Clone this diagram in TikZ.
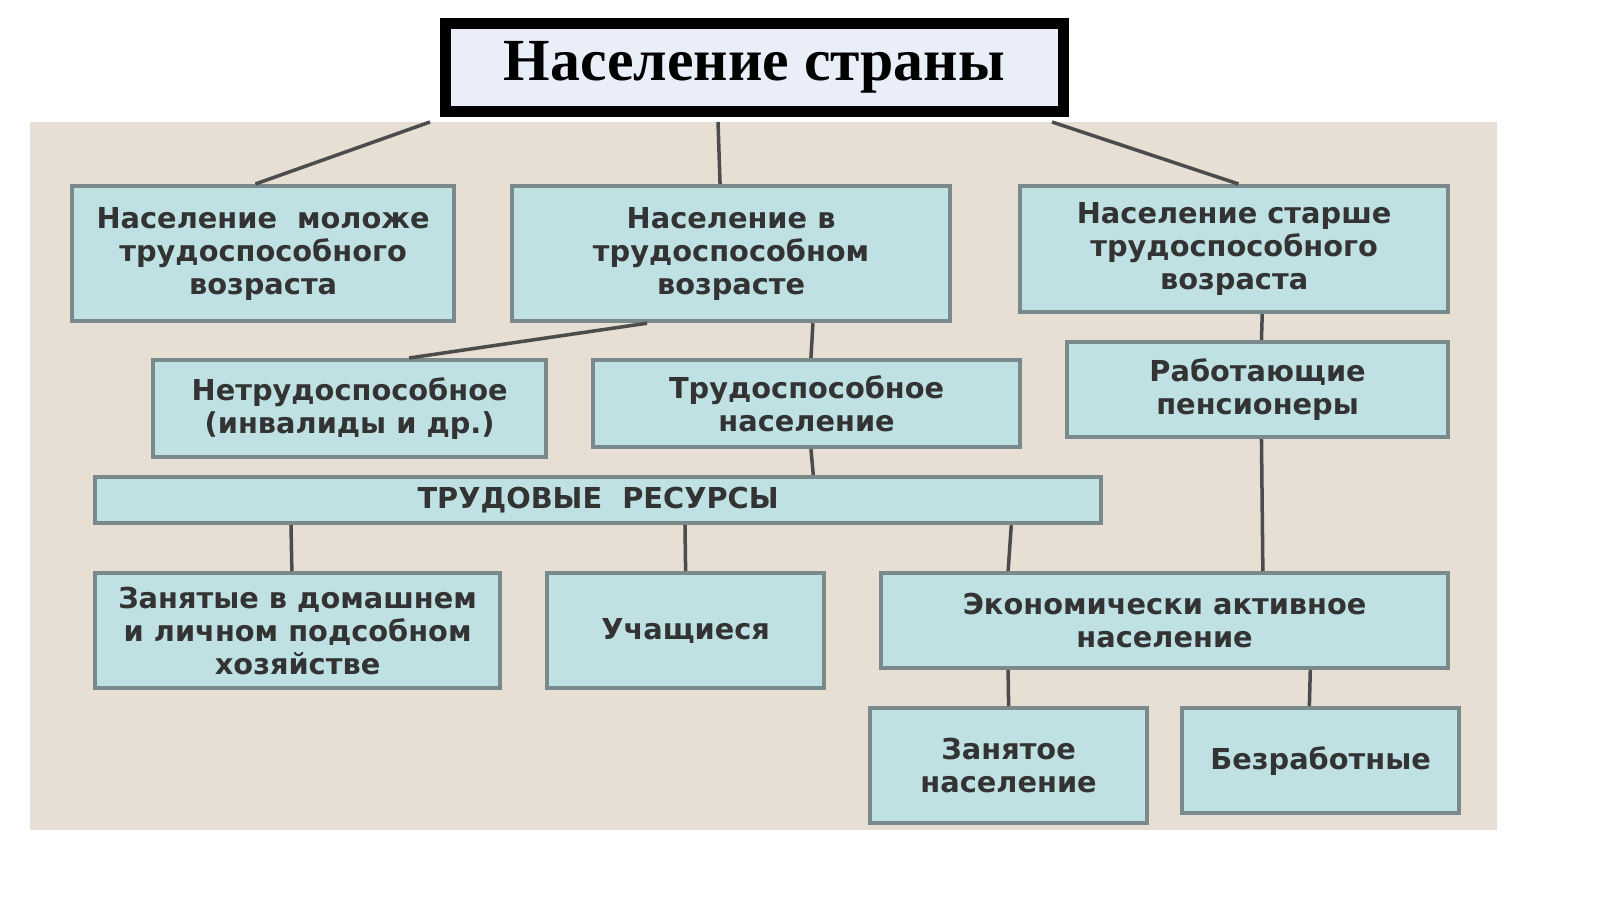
\documentclass[tikz,border=0pt]{standalone}
\usepackage{fontspec}
\setmainfont{Liberation Serif}
\newfontfamily\boxfont{DejaVu Sans}
\usetikzlibrary{calc}
\definecolor{bgsand}{HTML}{E7DED4}
\definecolor{boxblue}{HTML}{BFE1E4}
\definecolor{boxline}{HTML}{7A8A8C}
\definecolor{titlefill}{HTML}{E9EEF8}
\definecolor{txtgray}{HTML}{333333}
\tikzset{
 box/.style={draw=boxline, line width=1.2pt, fill=boxblue, anchor=north west,
  inner sep=0pt, align=center, text=txtgray,
  font=\boxfont\bfseries\fontsize{8.2}{9.4}\selectfont},
 link/.style={draw=black!70, line width=1pt}
}
\begin{document}
\begin{tikzpicture}
 \useasboundingbox (0,0) rectangle (16,-8.99);
 \fill[white] (0,0) rectangle (16,-8.99);
 \fill[bgsand] (0.30,-1.22) rectangle (14.97,-8.30); %фон
 % заголовок
 \node[draw=black, line width=3pt, fill=titlefill, minimum width=6.18cm, minimum height=0.88cm,
  anchor=north west, font=\bfseries\fontsize{17}{20}\selectfont] (T) at (4.40,-0.18) {Население страны};
 % верхний ряд
 \node[box, minimum width=3.82cm, minimum height=1.35cm] (A) at (0.70,-1.84) {Население~~моложе\\трудоспособного\\возраста};
 \node[box, minimum width=4.38cm, minimum height=1.35cm] (B) at (5.10,-1.84) {Население в\\трудоспособном\\возрасте};
 \node[box, minimum width=4.28cm, minimum height=1.26cm] (C) at (10.18,-1.84) {Население старше\\трудоспособного\\возраста};
 % второй ряд
 \node[box, minimum width=3.93cm, minimum height=0.97cm] (D) at (1.51,-3.58) {Нетрудоспособное\\(инвалиды и др.)};
 \node[box, minimum width=4.27cm, minimum height=0.87cm] (E) at (5.91,-3.58) {Трудоспособное\\население};
 \node[box, minimum width=3.81cm, minimum height=0.95cm] (F) at (10.65,-3.40) {Работающие\\пенсионеры};
 % трудовые ресурсы
 \node[box, minimum width=10.06cm, minimum height=0.46cm] (G) at (0.93,-4.75) {ТРУДОВЫЕ~~РЕСУРСЫ};
 % нижний ряд
 \node[box, minimum width=4.05cm, minimum height=1.15cm] (H) at (0.93,-5.71) {Занятые в домашнем\\и личном подсобном\\хозяйстве};
 \node[box, minimum width=2.77cm, minimum height=1.15cm] (I) at (5.45,-5.71) {Учащиеся};
 \node[box, minimum width=5.67cm, minimum height=0.95cm] (J) at (8.79,-5.71) {Экономически активное\\население};
 \node[box, minimum width=2.77cm, minimum height=1.15cm] (K) at (8.68,-7.06) {Занятое\\население};
 \node[box, minimum width=2.77cm, minimum height=1.05cm] (L) at (11.80,-7.06) {Безработные};
 % линии от заголовка
 \coordinate (t1) at (4.30,-1.22);
 \coordinate (t2) at (7.18,-1.22);
 \coordinate (t3) at (10.52,-1.22);
 \draw[link] (t1) -- ($(A.north west)!0.48!(A.north east)$);
 \draw[link] (t2) -- ($(B.north west)!0.475!(B.north east)$);
 \draw[link] (t3) -- ($(C.north west)!0.51!(C.north east)$);
 % связи
 \draw[link] ($(B.south west)!0.31!(B.south east)$) -- ($(D.north west)!0.65!(D.north east)$);
 \draw[link] ($(B.south west)!0.685!(B.south east)$) -- ($(E.north west)!0.51!(E.north east)$);
 \draw[link] ($(E.south west)!0.51!(E.south east)$) -- ($(G.north west)!0.713!(G.north east)$);
 \draw[link] ($(C.south west)!0.565!(C.south east)$) -- ($(F.north west)!0.51!(F.north east)$);
 \draw[link] ($(F.south west)!0.51!(F.south east)$) -- ($(J.north west)!0.672!(J.north east)$);
 \draw[link] ($(G.south west)!0.196!(G.south east)$) -- ($(H.north west)!0.486!(H.north east)$);
 \draw[link] ($(G.south west)!0.586!(G.south east)$) -- ($(I.north west)!0.5!(I.north east)$);
 \draw[link] ($(G.south west)!0.909!(G.south east)$) -- ($(J.north west)!0.226!(J.north east)$);
 \draw[link] ($(J.south west)!0.226!(J.south east)$) -- ($(K.north west)!0.5!(K.north east)$);
 \draw[link] ($(J.south west)!0.755!(J.south east)$) -- ($(L.north west)!0.46!(L.north east)$);
\end{tikzpicture}
\end{document}
